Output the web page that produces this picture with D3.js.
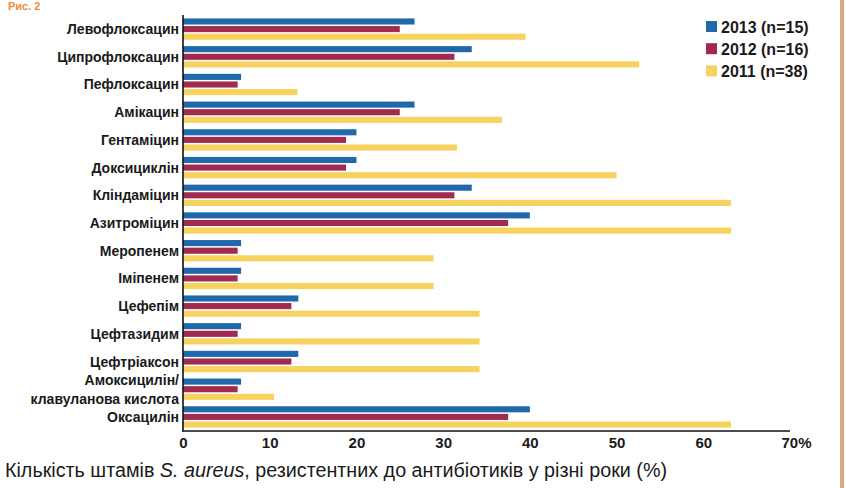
<!DOCTYPE html>
<html>
<head>
<meta charset="utf-8">
<script src="https://cdn.jsdelivr.net/npm/d3@7"></script>
<style>
  html, body { margin: 0; padding: 0; background: #ffffff; }
  svg { display: block; }
</style>
</head>
<body>
<svg id="chart" width="846" height="488"></svg>
<script>
// Antibiotics (top to bottom)
const categories = [
  "Левофлоксацин", "Ципрофлоксацин", "Пефлоксацин", "Амікацин", "Гентаміцин",
  "Доксициклін", "Кліндаміцин", "Азитроміцин", "Меропенем", "Іміпенем",
  "Цефепім", "Цефтазидим", "Цефтріаксон", "Амоксицилін/\nклавуланова кислота", "Оксацилін"
];
// Share of resistant S. aureus strains, %
const series2013 = [26.7, 33.3, 6.7, 26.7, 20.0, 20.0, 33.3, 40.0, 6.7, 6.7, 13.3, 6.7, 13.3, 6.7, 40.0];
const series2012 = [25.0, 31.3, 6.3, 25.0, 18.8, 18.8, 31.3, 37.5, 6.3, 6.3, 12.5, 6.3, 12.5, 6.3, 37.5];
const series2011 = [39.5, 52.6, 13.2, 36.8, 31.6, 50.0, 63.2, 63.2, 28.9, 28.9, 34.2, 34.2, 34.2, 10.5, 63.2];
const seriesNames = ["2013 (n=15)", "2012 (n=16)", "2011 (n=38)"];
const seriesColors = ["#1f69aa", "#a02a50", "#f6d25e"];
const xTicks = [0, 10, 20, 30, 40, 50, 60, 70];

const seriesValues = [series2013, series2012, series2011];
const rows = categories.map((c, i) => ({ cat: c, vals: seriesValues.map(s => s[i]) }));

const svg = d3.select("#chart");
const labelFont = "'Liberation Sans', Arial, sans-serif";

// Figure number
svg.append("text")
  .attr("x", 8).attr("y", 10)
  .attr("font-family", labelFont).attr("font-weight", "bold")
  .attr("font-size", 11).attr("fill", "#f08a3c")
  .text("Рис. 2");

// Right page border
svg.append("rect").attr("x", 840).attr("y", 0).attr("width", 4).attr("height", 488)
  .attr("fill", "#dcaa80");

const x = d3.scaleLinear().domain([0, 70]).range([183, 790]);
const y = d3.scaleBand().domain(categories).range([14, 432]).paddingInner(0.23).paddingOuter(0.16);
const yInner = d3.scaleBand().domain(d3.range(3)).range([0, y.bandwidth()]).paddingInner(0.2);

// Bars
const groups = svg.append("g").selectAll("g").data(rows).join("g")
  .attr("transform", d => `translate(0,${y(d.cat)})`);
groups.selectAll("rect").data(d => d.vals.map((v, k) => ({ v, k }))).join("rect")
  .attr("x", x(0))
  .attr("y", d => yInner(d.k))
  .attr("width", d => x(d.v) - x(0))
  .attr("height", yInner.bandwidth())
  .attr("fill", d => seriesColors[d.k]);

// Category labels
const labels = svg.append("g").selectAll("text").data(categories).join("text")
  .attr("x", 179)
  .attr("y", d => y(d) + y.bandwidth() / 2)
  .attr("text-anchor", "end")
  .attr("font-family", labelFont).attr("font-weight", "bold")
  .attr("font-size", 14).attr("fill", "#1a1a1a");
labels.each(function (d) {
  const parts = d.split("\n");
  const t = d3.select(this);
  parts.forEach((p, i) => {
    const off = (i - (parts.length - 1) / 2) * 19;
    t.append("tspan").attr("x", 179).attr("dy", i === 0 ? off + 5 : 19).text(p);
  });
});

// Axes lines
svg.append("line").attr("x1", x(0)).attr("x2", x(0)).attr("y1", 15).attr("y2", 431.5)
  .attr("stroke", "#111").attr("stroke-width", 1.6);
svg.append("line").attr("x1", x(0) - 0.8).attr("x2", x(70)).attr("y1", 431).attr("y2", 431)
  .attr("stroke", "#111").attr("stroke-width", 1.6);

// X tick labels
const xAxis = d3.axisBottom(x).tickValues(xTicks).tickSize(0).tickPadding(0)
  .tickFormat(d => d === 70 ? "70%" : String(d));
const gx = svg.append("g").attr("transform", "translate(0,435)").call(xAxis);
gx.select(".domain").remove();
gx.selectAll("text")
  .attr("font-family", labelFont).attr("font-weight", "bold")
  .attr("font-size", 15).attr("fill", "#1a1a1a")
  .attr("dy", "0.85em")
  .attr("dx", d => d === 70 ? 6 : 0);

// Legend
const legend = svg.append("g").selectAll("g").data(seriesNames).join("g")
  .attr("transform", (d, i) => `translate(706,${26.5 + i * 22.2})`);
legend.append("rect").attr("x", 0).attr("y", -5.5).attr("width", 11).attr("height", 11)
  .attr("fill", (d, i) => seriesColors[i]);
legend.append("text").attr("x", 15).attr("y", 6)
  .attr("font-family", labelFont).attr("font-weight", "bold")
  .attr("font-size", 16).attr("fill", "#1a1a1a").text(d => d);

// Caption
const cap = svg.append("text").attr("x", 5).attr("y", 477)
  .attr("font-family", labelFont).attr("font-size", 20).attr("fill", "#1a1a1a")
  .attr("textLength", 662).attr("lengthAdjust", "spacingAndGlyphs");
cap.append("tspan").text("Кількість штамів ");
cap.append("tspan").attr("font-style", "italic").text("S. aureus");
cap.append("tspan").text(", резистентних до антибіотиків у різні роки (%)");
</script>
</body>
</html>
